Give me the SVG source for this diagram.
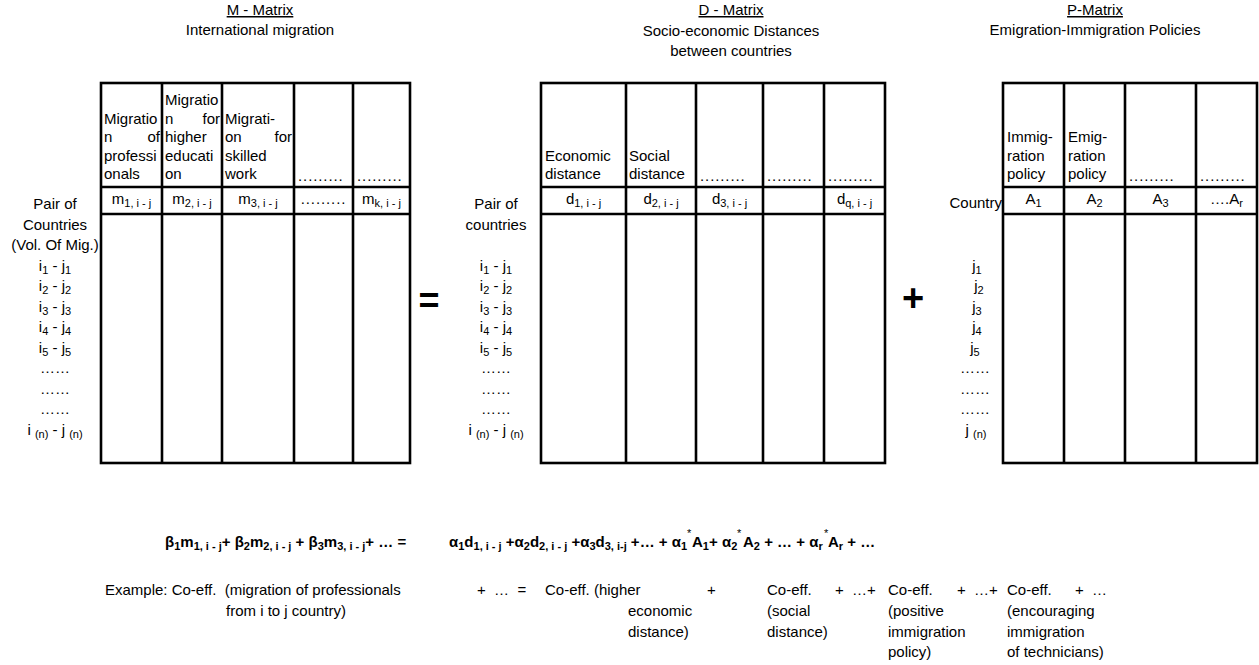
<svg xmlns="http://www.w3.org/2000/svg" width="1259" height="665" viewBox="0 0 1259 665">
<style>
text{font-family:"Liberation Sans",Arial,sans-serif;font-size:15px;fill:#000}
.c{text-anchor:middle}
.e{text-anchor:end}
.u{text-decoration:underline}
.sb{font-size:11px;baseline-shift:-3px}
.b{font-weight:bold}
.ln{stroke:#000;stroke-width:2.6;fill:none}
.ds{letter-spacing:0.9px}
</style>
<rect width="1259" height="665" fill="#fff"/>
<g id="titles">
<text class="c u" x="260" y="15">M - Matrix</text>
<text class="c" x="260" y="35">International migration</text>
<text class="c u" x="731" y="15">D - Matrix</text>
<text class="c" x="731" y="36">Socio-economic Distances</text>
<text class="c" x="731" y="56">between countries</text>
<text class="c u" x="1095" y="15">P-Matrix</text>
<text class="c" x="1095" y="35">Emigration-Immigration Policies</text>
</g>
<g id="m-matrix">
<rect class="ln" x="101" y="83" width="309" height="380"/>
<path class="ln" d="M162 83V463M222 83V463M294 83V463M353 83V463M101 187H410M101 214H410"/>
<text x="104" y="124">Migratio</text>
<text x="104" y="142">n</text><text class="e" x="160" y="142">of</text>
<text x="104" y="161">professi</text>
<text x="104" y="179">onals</text>
<text x="165" y="105">Migratio</text>
<text x="165" y="124">n</text><text class="e" x="220" y="124">for</text>
<text x="165" y="142">higher</text>
<text x="165" y="161">educati</text>
<text x="165" y="179">on</text>
<text x="225" y="124">Migrati-</text>
<text x="225" y="142">on</text><text class="e" x="292" y="142">for</text>
<text x="225" y="161">skilled</text>
<text x="225" y="179">work</text>
<text class="ds" x="298" y="181">.........</text>
<text class="ds" x="357" y="181">.........</text>
<text class="c" x="131.5" y="204">m<tspan class="sb">1, i - j</tspan></text>
<text class="c" x="192" y="204">m<tspan class="sb">2, i - j</tspan></text>
<text class="c" x="258" y="204">m<tspan class="sb">3, i - j</tspan></text>
<text class="c ds" x="323.5" y="204">.........</text>
<text class="c" x="381.5" y="204">m<tspan class="sb">k, i - j</tspan></text>
<g class="rows">
<text class="c" x="55" y="209">Pair of</text>
<text class="c" x="55" y="229.5">Countries</text>
<text class="c" x="55" y="250">(Vol. Of Mig.)</text>
<text class="c" x="55" y="270.5">i<tspan class="sb">1</tspan> - j<tspan class="sb">1</tspan></text>
<text class="c" x="55" y="291">i<tspan class="sb">2</tspan> - j<tspan class="sb">2</tspan></text>
<text class="c" x="55" y="311.5">i<tspan class="sb">3</tspan> - j<tspan class="sb">3</tspan></text>
<text class="c" x="55" y="332">i<tspan class="sb">4</tspan> - j<tspan class="sb">4</tspan></text>
<text class="c" x="55" y="352.5">i<tspan class="sb">5</tspan> - j<tspan class="sb">5</tspan></text>
<text class="c" x="55" y="373">……</text>
<text class="c" x="55" y="393.5">……</text>
<text class="c" x="55" y="414">……</text>
<text class="c" x="55" y="434.5">i <tspan class="sb">(n)</tspan> - j <tspan class="sb">(n)</tspan></text>
</g>
</g>
<g id="equals"><text class="c b" x="429" y="313" style="font-size:36px">=</text></g>
<g id="d-matrix">
<rect class="ln" x="541" y="83" width="344" height="380"/>
<path class="ln" d="M626 83V463M696 83V463M763 83V463M824 83V463M541 187H885M541 214H885"/>
<text x="545" y="161">Economic</text>
<text x="545" y="179">distance</text>
<text x="629" y="161">Social</text>
<text x="629" y="179">distance</text>
<text class="ds" x="700" y="181">.........</text>
<text class="ds" x="767" y="181">.........</text>
<text class="ds" x="828" y="181">.........</text>
<text class="c" x="583.5" y="204">d<tspan class="sb">1, i - j</tspan></text>
<text class="c" x="661" y="204">d<tspan class="sb">2, i - j</tspan></text>
<text class="c" x="729.5" y="204">d<tspan class="sb">3, i - j</tspan></text>
<text class="c" x="854.5" y="204">d<tspan class="sb">q, i - j</tspan></text>
<text class="c" x="496" y="209">Pair of</text>
<text class="c" x="496" y="229.5">countries</text>
<text class="c" x="496" y="270.5">i<tspan class="sb">1</tspan> - j<tspan class="sb">1</tspan></text>
<text class="c" x="496" y="291">i<tspan class="sb">2</tspan> - j<tspan class="sb">2</tspan></text>
<text class="c" x="496" y="311.5">i<tspan class="sb">3</tspan> - j<tspan class="sb">3</tspan></text>
<text class="c" x="496" y="332">i<tspan class="sb">4</tspan> - j<tspan class="sb">4</tspan></text>
<text class="c" x="496" y="352.5">i<tspan class="sb">5</tspan> - j<tspan class="sb">5</tspan></text>
<text class="c" x="496" y="373">……</text>
<text class="c" x="496" y="393.5">……</text>
<text class="c" x="496" y="414">……</text>
<text class="c" x="496" y="434.5">i <tspan class="sb">(n)</tspan> - j <tspan class="sb">(n)</tspan></text>
</g>
<g id="plus"><text class="c b" x="913" y="311" style="font-size:38px">+</text></g>
<g id="p-matrix">
<rect class="ln" x="1003" y="83" width="254" height="380"/>
<path class="ln" d="M1064 83V463M1125 83V463M1196 83V463M1003 187H1257M1003 214H1257"/>
<text x="1007" y="142">Immig-</text>
<text x="1007" y="161">ration</text>
<text x="1007" y="179">policy</text>
<text x="1068" y="142">Emig-</text>
<text x="1068" y="161">ration</text>
<text x="1068" y="179">policy</text>
<text class="ds" x="1129" y="181">.........</text>
<text class="ds" x="1200" y="181">.........</text>
<text class="c" x="1033.5" y="204">A<tspan class="sb">1</tspan></text>
<text class="c" x="1094.5" y="204">A<tspan class="sb">2</tspan></text>
<text class="c" x="1160.5" y="204">A<tspan class="sb">3</tspan></text>
<text class="c" x="1226.5" y="204">….A<tspan class="sb">r</tspan></text>
<text class="e" x="1002" y="208">Country</text>
<text class="c" x="977" y="270.5">j<tspan class="sb">1</tspan></text>
<text class="c" x="979" y="291">j<tspan class="sb">2</tspan></text>
<text class="c" x="977" y="311.5">j<tspan class="sb">3</tspan></text>
<text class="c" x="977" y="332">j<tspan class="sb">4</tspan></text>
<text class="c" x="975" y="352.5">j<tspan class="sb">5</tspan></text>
<text class="c" x="975" y="373">……</text>
<text class="c" x="975" y="393.5">……</text>
<text class="c" x="975" y="414">……</text>
<text class="c" x="976" y="434.5">j <tspan class="sb">(n)</tspan></text>
</g>
<g id="connectors"/>
<g id="equation">
<text class="b" x="165" y="547">β<tspan class="sb">1</tspan>m<tspan class="sb">1, i - j</tspan>+ β<tspan class="sb">2</tspan>m<tspan class="sb">2, i - j</tspan> + β<tspan class="sb">3</tspan>m<tspan class="sb">3, i - j</tspan>+ … =</text>
<text class="b" x="449" y="547">α<tspan class="sb">1</tspan>d<tspan class="sb">1, i - j</tspan> +α<tspan class="sb">2</tspan>d<tspan class="sb">2, i - j</tspan> +α<tspan class="sb">3</tspan>d<tspan class="sb">3, i-j</tspan> +… + α<tspan class="sb">1</tspan></text>
<text class="b" x="692" y="547">A<tspan class="sb">1</tspan>+ α<tspan class="sb">2</tspan></text>
<text class="b" x="743" y="547">A<tspan class="sb">2</tspan> + … + α<tspan class="sb">r</tspan></text>
<text class="b" x="828" y="547">A<tspan class="sb">r</tspan> + …</text>
<text style="font-size:11px" x="687" y="537">*</text>
<text style="font-size:11px" x="737" y="537">*</text>
<text style="font-size:11px" x="824" y="537">*</text>
</g>
<g id="example">
<text x="105" y="595" xml:space="preserve">Example: Co-eff.  (migration of professionals</text>
<text x="226" y="616">from i to j country)</text>
<text x="477" y="595" xml:space="preserve">+  …  =</text>
<text x="545" y="595">Co-eff. (higher</text>
<text x="628" y="616">economic</text>
<text x="628" y="637">distance)</text>
<text x="707" y="595">+</text>
<text x="767" y="595">Co-eff.</text>
<text x="767" y="616">(social</text>
<text x="767" y="637">distance)</text>
<text x="835" y="595" xml:space="preserve">+  …+</text>
<text x="888" y="595">Co-eff.</text>
<text x="888" y="616">(positive</text>
<text x="888" y="637">immigration</text>
<text x="888" y="657">policy)</text>
<text x="957" y="595" xml:space="preserve">+  …+</text>
<text x="1007" y="595">Co-eff.</text>
<text x="1075" y="595" xml:space="preserve">+  …</text>
<text x="1007" y="616">(encouraging</text>
<text x="1007" y="637">immigration</text>
<text x="1007" y="657">of technicians)</text>
</g>
</svg>
